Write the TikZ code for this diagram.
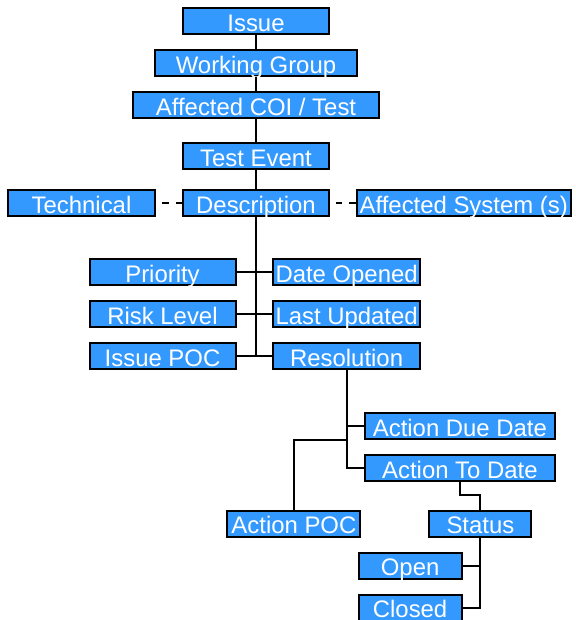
\documentclass[tikz,border=0pt]{standalone}
\usepackage{fontspec}
\setmainfont{Liberation Sans}
\usepackage{tikz}
\usetikzlibrary{positioning}
\definecolor{boxblue}{RGB}{51,153,255}
\tikzset{
  field/.style={rectangle, draw=black, line width=2pt, fill=boxblue, text=white,
                font=\fontsize{23.9pt}{28pt}\selectfont, inner xsep=0pt, inner ysep=0pt,
                text height=23.4pt, text depth=2.6pt},
  link/.style={line width=2pt, black},
  optlink/.style={line width=2pt, black, dash pattern=on 6.5pt off 7pt},
}

\begin{document}
\begin{tikzpicture}[x=1pt, y=1pt]
  \useasboundingbox (0,0) rectangle (575,-620);

  % --- Spine ---
  \node[field, minimum width=146pt] (issue) at (256,-21.3) {Issue};
  \node[field, minimum width=202pt, below=14pt of issue] (group) {Working Group};
  \node[field, minimum width=246pt, below=13.7pt of group] (coi) {Affected COI / Test};
  \node[field, minimum width=146pt, below=23pt of coi] (event) {Test Event};
  \node[field, minimum width=146pt, below=18.7pt of event] (descr) {Description};

  % --- Side qualifiers ---
  \node[field, minimum width=147pt, left=26pt of descr] (tech) {Technical};
  \node[field, minimum width=214pt, right=25.7pt of descr] (sys) {Affected System (s)};

  % --- Attributes ---
  \node[field, minimum width=146pt, below=41.3pt of descr, xshift=-93.5pt] (prio) {Priority};
  \node[field, minimum width=146pt, below=14pt of prio] (risk) {Risk Level};
  \node[field, minimum width=146pt, below=14pt of risk] (poc) {Issue POC};
  \node[field, minimum width=147pt, right=35.6pt of prio] (opened) {Date Opened};
  \node[field, minimum width=147pt, right=35.6pt of risk] (updated) {Last Updated};
  \node[field, minimum width=147pt, right=35.6pt of poc] (res) {Resolution};

  % --- Actions ---
  \node[field, minimum width=190pt, below=42pt of res, xshift=113.3pt] (due) {Action Due Date};
  \node[field, minimum width=190pt, below=14pt of due] (todate) {Action To Date};
  \node[field, minimum width=102pt, below=27.5pt of todate, xshift=20.5pt] (status) {Status};
  \node[field, minimum width=133pt, left=67pt of status] (apoc) {Action POC};

  % --- Status values ---
  \node[field, minimum width=103pt, below=14pt of status, xshift=-70.3pt] (open) {Open};
  \node[field, minimum width=103pt, below=14pt of open] (closed) {Closed};

  % --- Connectors ---
  \draw[link] (issue) -- (group);
  \draw[link] (group) -- (coi);
  \draw[link] (coi) -- (event);
  \draw[link] (event) -- (descr);
  \draw[optlink] (sys) -- (descr);
  \draw[optlink] (descr) -- (tech);
  \draw[link] (descr.south) -- (descr.south |- poc.east);
  \draw[link] (prio) -- (opened);
  \draw[link] (risk) -- (updated);
  \draw[link] (poc) -- (res);
  \draw[link] (res.south) |- (todate.west);
  \draw[link] (res.south |- due.west) -- (due.west);
  \draw[link] (res.south |- due.south) -| (apoc.north);
  \draw[link] (todate.south) -- ++(0,-13) -| (status.north);
  \draw[link] (status.south) |- (closed.east);
  \draw[link] (status.south |- open.east) -- (open.east);

\end{tikzpicture}
\end{document}
